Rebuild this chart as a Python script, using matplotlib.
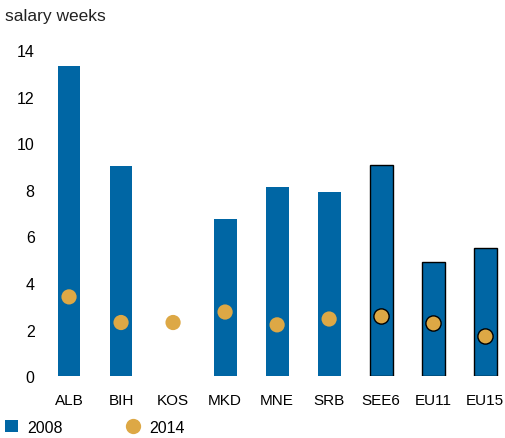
import matplotlib
matplotlib.use("Agg")
import matplotlib.pyplot as plt
from matplotlib.lines import Line2D
from matplotlib.patches import Patch

categories = ["ALB", "BIH", "KOS", "MKD", "MNE", "SRB", "SEE6", "EU11", "EU15"]
v2008 = [13.3, 9.0, None, 6.75, 8.1, 7.9, 9.05, 4.9, 5.5]
v2014 = [3.4, 2.3, 2.3, 2.75, 2.2, 2.45, 2.6, 2.3, 1.7]
aggregate = [False, False, False, False, False, False, True, True, True]
yticks = [0, 2, 4, 6, 8, 10, 12, 14]

blue = "#0066A4"
gold = "#DDA845"
font = ["Liberation Sans", "DejaVu Sans"]
plt.rcParams["font.family"] = font

fig = plt.figure(figsize=(5.06, 4.39), dpi=100)
ax = fig.add_axes([0.085, 0.141, 0.915, 0.743])

x = list(range(len(categories)))
for i, (v, agg) in enumerate(zip(v2008, aggregate)):
    if v is None:
        continue
    ax.bar(i, v, width=0.44, color=blue,
           edgecolor="black" if agg else blue, linewidth=1.0 if agg else 0, zorder=2)
for i, (v, agg) in enumerate(zip(v2014, aggregate)):
    ax.scatter(i, v, s=120, color=gold, edgecolors="black" if agg else "none",
               linewidths=1.0, zorder=3)

ax.set_xlim(-0.5, 8.4)
ax.set_ylim(0, 14)
ax.set_yticks(yticks)
ax.set_xticks(x)
ax.set_xticklabels(categories, fontsize=11)
ax.set_yticklabels([str(t) for t in yticks], fontsize=11.5)
ax.tick_params(axis="both", length=0)
ax.tick_params(axis="x", pad=12)
ax.tick_params(axis="y", pad=6)
for s in ax.spines.values():
    s.set_visible(False)

fig.text(0.01, 0.962, "salary weeks", fontsize=12.5, va="center", ha="left", color="#222222")

handles = [Patch(facecolor=blue, edgecolor="none"),
           Line2D([], [], marker="o", linestyle="none", markersize=11,
                  markerfacecolor=gold, markeredgecolor="none")]
fig.legend(handles, ["2008", "2014"], loc="lower left", bbox_to_anchor=(-0.018, -0.025),
           ncol=2, frameon=False, fontsize=11.5, columnspacing=4.0, handlelength=0.8,
           handletextpad=0.6)

fig.savefig("out.png", dpi=100)
